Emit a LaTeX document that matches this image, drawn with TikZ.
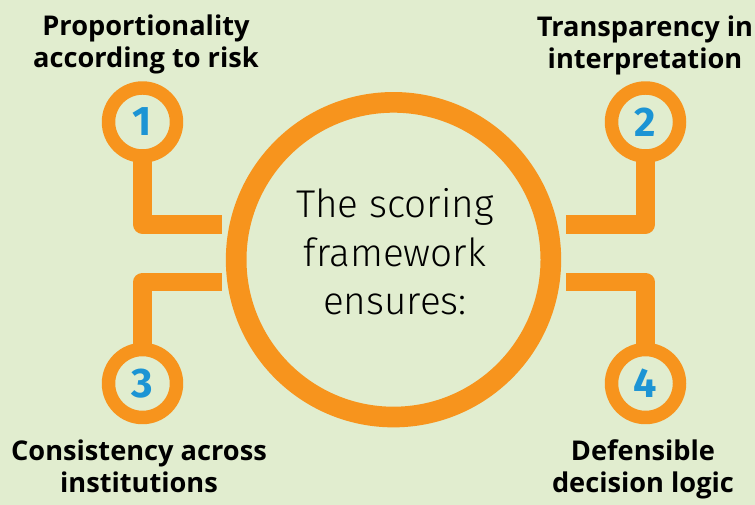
\documentclass[tikz,border=0pt]{standalone}
\usepackage{fontspec}
\setmainfont{Open Sans}
\newfontfamily\thinfont{Fira Sans Light}
\newfontfamily\digitfont{Fira Sans}

\definecolor{paleGreen}{HTML}{E1EDCF}
\definecolor{ringOrange}{HTML}{F7941D}
\definecolor{digitBlue}{HTML}{1C94D4}

\tikzset{
	ring/.style={circle, draw=ringOrange, line width=10.1pt, minimum size=51pt, inner sep=0pt, outer sep=0pt,
		text=digitBlue, font=\digitfont\bfseries\fontsize{31}{31}\selectfont},
	link/.style={draw=ringOrange, line width=13.9pt, line join=round},
	caption/.style={align=center, inner sep=0pt, font=\bfseries\fontsize{20.4}{24}\selectfont},
}

\begin{document}
\begin{tikzpicture}[x=0.75pt,y=0.75pt,yscale=-1]
	% page background, 755 x 505
	\fill[paleGreen] (0,0) rectangle (755,505);
	\useasboundingbox (0,0) rectangle (755,505);

	% central ring
	\node[circle, draw=ringOrange, line width=15.5pt, minimum size=236pt, inner sep=0pt] (hub) at (393.5,259.7) {};
	\node[align=center, inner sep=0pt, font=\thinfont\fontsize{29}{36.4}\selectfont] (hubtext) at (395,252) {The scoring\\framework\\ensures:};

	% numbered rings
	\node[ring] (n1) at (142.5,122) {1};
	\node[ring] (n2) at (645.5,122) {2};
	\node[ring] (n3) at (142.5,383.5) {3};
	\node[ring] (n4) at (645.5,383.5) {4};

	% free ends next to the hub
	\coordinate (e1) at (222,224.5);
	\coordinate (e2) at (566,224.5);
	\coordinate (e3) at (222,282);
	\coordinate (e4) at (566,282);

	\draw[link] (n1.south) |- (e1);
	\draw[link] (n2.south) |- (e2);
	\draw[link] (n3.north) |- (e3);
	\draw[link] (n4.north) |- (e4);

	% captions
	\node[caption] (t1) at (146,44.5) {Proportionality\\according to risk};
	\node[caption] (t2) at (645,45.5) {Transparency in\\interpretation};
	\node[caption] (t3) at (139,466) {Consistency across\\institutions};
	\node[caption] (t4) at (643,469) {Defensible\\decision logic};
\end{tikzpicture}
\end{document}
